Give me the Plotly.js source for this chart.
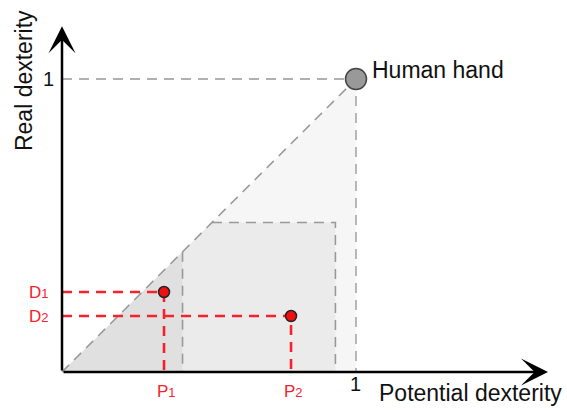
<!DOCTYPE html>
<html>
<head>
<meta charset="utf-8">
<script src="https://cdn.plot.ly/plotly-3.0.1.min.js"></script>
<style>html,body{margin:0;padding:0;background:#fff;}#chart{width:567px;height:410px;}</style>
</head>
<body>
<div id="chart"></div>
<script>
// Data (unit = human hand)
var humanHand = {x: 1, y: 1, label: "Human hand"};
var pointNames = ["1", "2"];
var potentialValues = [0.347, 0.779];   // P1, P2
var realValues = [0.273, 0.191];        // D1, D2
var innerRegionX = [0.41, 0.93];        // vertical dashed boundaries
var innerRegionTop = 0.51;              // horizontal dashed top of middle region
var axisTitles = {x: "Potential dexterity", y: "Real dexterity"};
var tickOne = 1;

var RED = "#f5222d";
var GREY_DASH = "#b0b0b0";
var traces = [];

// light triangle under diagonal up to x=1
traces.push({x: [0, humanHand.x, humanHand.x, 0], y: [0, humanHand.y, 0, 0], mode: "lines", fill: "toself",
  fillcolor: "#f6f6f6", line: {width: 0}, hoverinfo: "skip", showlegend: false});
// middle region
var a = innerRegionX[0], b = innerRegionX[1], t = innerRegionTop;
traces.push({x: [a, a, t, b, b, a], y: [0, a, t, t, 0, 0], mode: "lines", fill: "toself",
  fillcolor: "#ebebeb", line: {width: 0}, hoverinfo: "skip", showlegend: false});
// darkest triangle
traces.push({x: [0, a, a, 0], y: [0, a, 0, 0], mode: "lines", fill: "toself",
  fillcolor: "#e0e0e0", line: {width: 0}, hoverinfo: "skip", showlegend: false});

// dashed lines
function dashed(xs, ys, color, w, dash) {
  traces.push({x: xs, y: ys, mode: "lines", line: {color: color, width: w, dash: dash || "10px,7px"},
    hoverinfo: "skip", showlegend: false});
}
dashed([0, humanHand.x], [0, humanHand.y], "#9a9a9a", 1.6);
dashed([0, humanHand.x], [humanHand.y, humanHand.y], GREY_DASH, 1.8);
dashed([humanHand.x, humanHand.x], [humanHand.y, 0], GREY_DASH, 1.8);
dashed([a, a], [a, 0], "#999999", 1.6);
dashed([t, b, b], [t, t, 0], "#999999", 1.6);

// red dashed guides
for (var i = 0; i < potentialValues.length; i++) {
  dashed([0, potentialValues[i], potentialValues[i]], [realValues[i], realValues[i], 0], RED, 2.6, "10px,7px");
}
// red points
traces.push({x: potentialValues, y: realValues, mode: "markers",
  marker: {color: "#ee1111", size: 11, line: {color: "#222", width: 1.5}},
  hoverinfo: "skip", showlegend: false});
// human hand
traces.push({x: [humanHand.x], y: [humanHand.y], mode: "markers",
  marker: {color: "#999999", size: 21, line: {color: "#444", width: 1.5}},
  hoverinfo: "skip", showlegend: false});

var annotations = [];
// axis arrows
annotations.push({x: 1.653, y: 0, ax: 0, ay: 0, xref: "x", yref: "y", axref: "x", ayref: "y",
  showarrow: true, arrowhead: 3, arrowsize: 1.8, arrowwidth: 2.5, arrowcolor: "#000", text: ""});
annotations.push({x: 0, y: 1.18, ax: 0, ay: 0, xref: "x", yref: "y", axref: "x", ayref: "y",
  showarrow: true, arrowhead: 3, arrowsize: 1.8, arrowwidth: 2.5, arrowcolor: "#000", text: ""});

var FONT = "Liberation Sans, Arial, Helvetica, sans-serif";
function label(x, y, text, opts) {
  var o = {x: x, y: y, xref: "x", yref: "y", text: text, showarrow: false,
    font: {family: FONT, size: 16, color: "#111"}};
  for (var k in opts) o[k] = opts[k];
  annotations.push(o);
}
label(0, tickOne, String(tickOne), {xanchor: "center", xshift: -14, font: {family: FONT, size: 20, color: "#111"}});
label(tickOne, 0, String(tickOne), {yanchor: "middle", yshift: -12, xshift: -1, font: {family: FONT, size: 20, color: "#111"}});
label(humanHand.x, humanHand.y, humanHand.label, {xanchor: "left", yanchor: "middle", xshift: 14, yshift: 9,
  font: {family: FONT, size: 23, color: "#111"}});
label(1.07, 0, axisTitles.x, {xanchor: "left", yanchor: "middle", yshift: -21, font: {family: FONT, size: 23, color: "#111"}});
label(0, 0.993, axisTitles.y, {textangle: -90, xanchor: "center", yanchor: "middle", xshift: -38,
  font: {family: FONT, size: 23, color: "#111"}});
for (var j = 0; j < pointNames.length; j++) {
  var sub = "<span style='font-size:13px'>" + pointNames[j] + "</span>";
  label(0, realValues[j], "D" + sub, {xanchor: "right", xshift: -11,
    font: {family: FONT, size: 17, color: RED}});
  label(potentialValues[j], 0, "P" + sub, {yanchor: "middle", xshift: 2, yshift: -19,
    font: {family: FONT, size: 17, color: RED}});
}

var layout = {
  width: 567, height: 410,
  margin: {l: 0, r: 0, t: 0, b: 0},
  paper_bgcolor: "#fff", plot_bgcolor: "#fff",
  xaxis: {range: [-62/294, 505/294], visible: false, fixedrange: true},
  yaxis: {range: [-38/293, 372/293], visible: false, fixedrange: true},
  annotations: annotations,
  showlegend: false
};
Plotly.newPlot("chart", traces, layout, {staticPlot: true});
</script>
</body>
</html>
